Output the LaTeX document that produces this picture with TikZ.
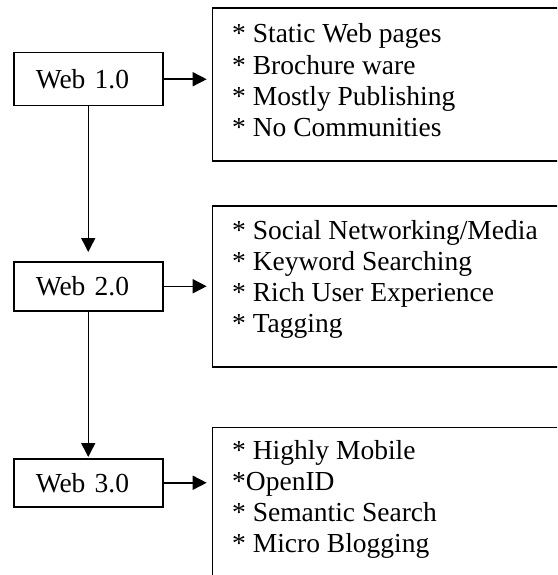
\documentclass[tikz,border=0pt]{standalone}
\usepackage{fontspec}
\setmainfont{Liberation Serif}
\usetikzlibrary{arrows.meta}
\tikzset{
  webbox/.style={draw, line width=1.5pt, rectangle, inner xsep=22pt, inner ysep=0pt,
     minimum width=149pt, text width=105pt, align=left, anchor=north west},
  listbox/.style={draw, line width=1.5pt, rectangle, inner sep=0pt,
     minimum width=360pt, anchor=north west},
  listtext/.style={anchor=base west, align=left, inner sep=0pt},
  conn/.style={line width=1.5pt, -{Triangle[length=14pt,width=14pt]}},
}
\begin{document}
\begin{tikzpicture}[x=1pt,y=-1pt,font=\fontsize{27.5}{31}\selectfont]
\useasboundingbox (0,0) rectangle (557,575);
\clip (0,0) rectangle (557,575);
\node[webbox, minimum height=53pt] (w1) at (13,52) {Web 1.0};
\node[webbox, minimum height=49pt] (w2) at (13,261) {Web 2.0};
\node[webbox, minimum height=48pt] (w3) at (13,458) {Web 3.0};
\node[listbox, minimum height=153pt] (b1) at (211.7,7.3) {};
\node[listbox, minimum height=161pt] (b2) at (211.7,205) {};
\node[listbox, minimum height=170pt] (b3) at (211.7,426.7) {};
\node[listtext] (t1) at (232,136) {* Static Web pages\\* Brochure ware\\* Mostly Publishing\\* No Communities};
\node[listtext] (t2) at (232,332) {* Social Networking/Media\\* Keyword Searching\\* Rich User Experience\\* Tagging};
\node[listtext] (t3) at (232,552) {* Highly Mobile\\*OpenID\\* Semantic Search\\* Micro Blogging};
\draw[conn, shorten >=5pt] (w1.east) -- (w1.east -| b1.west);
\draw[conn, shorten >=5pt] (w2.east) -- (w2.east -| b2.west);
\draw[conn, shorten >=5pt] (w3.east) -- (w3.east -| b3.west);
\draw[conn, shorten >=9pt] (w1.south) -- (w2.north);
\draw[conn, shorten >=1pt] (w2.south) -- (w3.north);
\end{tikzpicture}
\end{document}
